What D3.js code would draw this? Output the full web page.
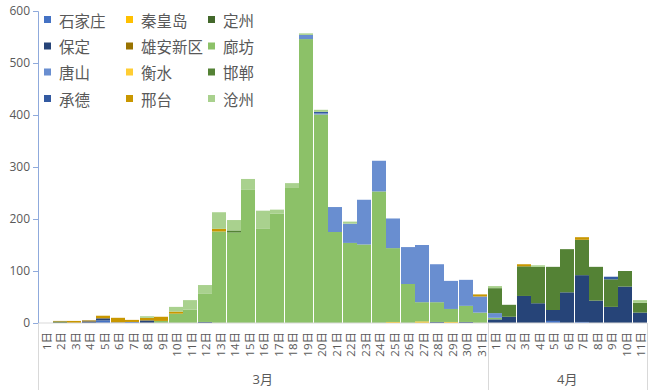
<!DOCTYPE html>
<html><head><meta charset="utf-8">
<script src="https://cdn.jsdelivr.net/npm/d3@7/dist/d3.min.js"></script>
<style>
body{margin:0;background:#fff}
svg{display:block}
text{font-family:"Open Sans","Noto Sans CJK SC",sans-serif;fill:#595959}
</style>
</head><body>
<svg id="c" width="649" height="392"></svg>
<script>
// ---------- DATA ----------
const months = ["3月", "4月"];
const monthDayCounts = [31, 11];
const dayLabels = [
  "1日","2日","3日","4日","5日","6日","7日","8日","9日","10日",
  "11日","12日","13日","14日","15日","16日","17日","18日","19日","20日",
  "21日","22日","23日","24日","25日","26日","27日","28日","29日","30日","31日",
  "1日","2日","3日","4日","5日","6日","7日","8日","9日","10日","11日"
];
const yTicks = [0, 100, 200, 300, 400, 500, 600];

// series in stacking order (bottom -> top)
const seriesNames = ["石家庄","秦皇岛","定州","保定","雄安新区","廊坊","唐山","衡水","邯郸","承德","邢台","沧州"];
const seriesColors = ["#4472C4","#FFC000","#43682B","#264478","#997300","#8CC168","#698ED0","#FFCD33","#548235","#335AA1","#C99700","#A9D18E"];

const shijiazhuang = [0,0,0,0,5,0,2,0,0,0, 0,0,0,0,0,0,0,0,0,0, 0,0,0,0,0,0,0,0,0,0, 0, 0,0,0,0,4,0,2,0,0,0,0];
const qinhuangdao  = [0,0,0,0,0,0,0,0,0,0, 0,0,0,0,0,0,0,0,0,0, 0,0,0,0,2,0,3,0,2,0, 0, 0,0,0,0,0,0,0,0,0,0,0];
const dingzhou     = [0,3,0,0,0,0,0,0,0,0, 0,0,0,0,0,0,0,0,0,0, 0,0,0,0,0,0,0,0,0,0, 0, 0,0,0,0,0,0,0,0,0,0,0];
const baoding      = [0,0,0,3,4,1,0,5,0,0, 0,2,0,0,0,0,0,0,0,0, 0,0,0,0,0,0,0,2,0,2, 0, 7,12,52,38,21,59,90,43,31,70,20];
const xiongan      = [0,0,0,2,0,0,0,0,0,0, 0,0,0,0,0,0,0,0,0,0, 0,0,0,0,0,0,0,0,0,0, 0, 0,0,0,0,0,0,0,0,0,0,0];
const langfang     = [0,0,0,0,0,0,0,0,4,18, 26,55,176,174,257,182,210,261,546,401, 175,154,151,253,142,75,37,38,25,31, 20, 3,0,0,0,0,0,0,0,0,0,0];
const tangshan     = [0,0,0,0,0,0,0,0,0,0, 0,0,0,0,0,0,0,0,8,2, 48,37,86,59,57,71,110,73,54,50, 31, 9,0,0,0,0,0,0,0,0,0,0];
const hengshui     = [0,0,0,0,0,0,0,0,0,0, 0,0,0,0,0,0,0,0,0,0, 0,0,0,0,0,0,0,0,0,0, 0, 0,0,0,0,0,0,0,0,0,0,0];
const handan       = [0,0,0,0,0,0,0,0,0,0, 0,0,0,4,0,0,0,0,0,0, 0,0,0,0,0,0,0,0,0,0, 0, 48,23,57,70,83,83,68,65,53,30,19];
const chengde      = [0,0,0,0,0,0,0,0,0,0, 0,0,0,0,0,0,0,0,0,3, 0,0,0,0,0,0,0,0,0,0, 0, 0,0,0,0,0,0,0,0,5,0,0];
const xingtai      = [0,1,4,0,5,9,4,5,8,4, 0,0,5,0,0,0,0,0,0,0, 0,0,0,0,0,0,0,0,0,0, 4, 0,0,4,0,0,0,5,0,0,0,0];
const cangzhou     = [0,0,0,0,0,0,0,3,0,9, 18,16,32,20,20,34,8,8,3,4, 0,4,0,0,0,0,0,0,0,0, 0, 4,0,0,3,0,0,0,0,0,0,5];

const seriesValues = [shijiazhuang,qinhuangdao,dingzhou,baoding,xiongan,langfang,tangshan,hengshui,handan,chengde,xingtai,cangzhou];
// legend display order (row by row, 3 columns)
const legendOrder = ["石家庄","秦皇岛","定州","保定","雄安新区","廊坊","唐山","衡水","邯郸","承德","邢台","沧州"];

// ---------- CHART ----------
const svg = d3.select("#c");
const mLeft = 38, mRight = 647, mTop = 11, mBottom = 323;

const rows = dayLabels.map((d, i) => {
  const o = {idx: i};
  seriesNames.forEach((s, k) => o[s] = seriesValues[k][i]);
  return o;
});

const x = d3.scaleBand().domain(d3.range(dayLabels.length)).range([mLeft, mRight]).padding(0);
const y = d3.scaleLinear().domain([0, 600]).range([mBottom, mTop]);
const color = d3.scaleOrdinal().domain(seriesNames).range(seriesColors);

const stacked = d3.stack().keys(seriesNames)(rows);

// bars
const g = svg.append("g");
g.selectAll("g.s").data(stacked).join("g").attr("class","s")
  .attr("fill", d => color(d.key))
  .selectAll("rect").data(d => d).join("rect")
  .attr("x", d => Math.round(x(d.data.idx)))
  .attr("width", Math.floor(x.bandwidth()))
  .attr("y", d => y(d[1]))
  .attr("height", d => Math.max(0, y(d[0]) - y(d[1])));

// x baseline
svg.append("line").attr("x1", mLeft).attr("x2", mRight).attr("y1", mBottom).attr("y2", mBottom)
  .attr("stroke", "#D9D9D9").attr("stroke-width", 1);

// y axis
const yAxis = d3.axisLeft(y).tickValues(yTicks).tickSize(5).tickPadding(3);
const ya = svg.append("g").attr("transform", `translate(${mLeft},0)`).call(yAxis);
ya.select(".domain").attr("stroke", "#8FAADC");
ya.selectAll(".tick line").attr("stroke", "#8FAADC");
ya.selectAll(".tick text").attr("font-size", 12).attr("fill", "#595959")
  .style("font-family", "'Open Sans',sans-serif");

// x day labels (rotated)
svg.append("g").selectAll("text").data(dayLabels).join("text")
  .attr("transform", (d, i) => `translate(${x(i) + x.bandwidth()/2 + 1},${mBottom + 9}) rotate(-90)`)
  .attr("text-anchor", "end").attr("dominant-baseline", "central")
  .attr("font-size", 11.5).text(d => d);

// month group separators and labels
let start = 0;
const bounds = [mLeft];
months.forEach((m, k) => {
  const s = start, e = start + monthDayCounts[k] - 1;
  const x0 = x(s), x1 = x(e) + x.bandwidth();
  bounds.push(x1);
  svg.append("text").attr("x", (x0 + x1) / 2).attr("y", 379)
    .attr("text-anchor", "middle").attr("dominant-baseline", "central")
    .attr("font-size", 13).text(m);
  start += monthDayCounts[k];
});
svg.append("g").selectAll("line").data(bounds).join("line")
  .attr("x1", d => Math.round(d) + 0.5).attr("x2", d => Math.round(d) + 0.5)
  .attr("y1", mBottom).attr("y2", 390)
  .attr("stroke", "#D9D9D9").attr("stroke-width", 1);

// legend
const lg = svg.append("g");
const colX = [44, 126, 208];
const rowY = [19.5, 46, 72, 98.5];
legendOrder.forEach((name, i) => {
  const c = i % 3, r = Math.floor(i / 3);
  const item = lg.append("g").attr("transform", `translate(${colX[c]},${rowY[r]})`);
  item.append("rect").attr("x", 0).attr("y", -3.5).attr("width", 7).attr("height", 7).attr("fill", color(name));
  item.append("text").attr("x", 15).attr("y", 0).attr("dominant-baseline", "central")
    .attr("font-size", 15.5).style("font-family", "'Noto Sans CJK SC',sans-serif").attr("fill", "#404040").text(name);
});
</script>
</body></html>
